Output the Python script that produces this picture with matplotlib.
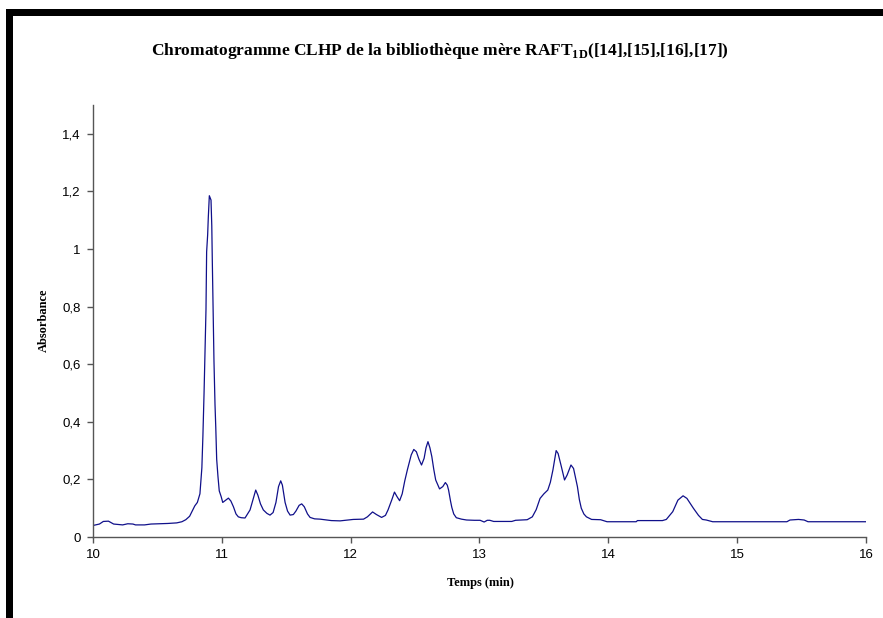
import matplotlib
matplotlib.use('Agg')
import matplotlib.pyplot as plt
from matplotlib.ticker import FuncFormatter, MultipleLocator

# Chromatogramme (temps en min, absorbance)
temps = [10.00, 10.05, 10.08, 10.12, 10.16, 10.23, 10.27, 10.31, 10.33, 10.40,
         10.45, 10.52, 10.58, 10.65, 10.69, 10.72, 10.75, 10.77, 10.79, 10.81,
         10.83, 10.845, 10.853, 10.862, 10.870, 10.877, 10.882, 10.890, 10.895, 10.903,
         10.916, 10.922, 10.926, 10.933, 10.939, 10.947, 10.953, 10.960, 10.970, 10.980,
         10.995, 11.007, 11.030, 11.051, 11.070, 11.090, 11.110, 11.128, 11.150, 11.180,
         11.200, 11.219, 11.245, 11.263, 11.280, 11.300, 11.322, 11.350, 11.374, 11.398,
         11.420, 11.440, 11.457, 11.470, 11.491, 11.510, 11.530, 11.555, 11.575, 11.600,
         11.620, 11.640, 11.665, 11.685, 11.720, 11.762, 11.80, 11.85, 11.918, 11.96,
         12.02, 12.10, 12.13, 12.17, 12.20, 12.24, 12.27, 12.29, 12.32, 12.34,
         12.36, 12.38, 12.40, 12.42, 12.44, 12.47, 12.49, 12.51, 12.53, 12.55,
         12.57, 12.585, 12.60, 12.615, 12.63, 12.645, 12.66, 12.69, 12.715, 12.735,
         12.75, 12.76, 12.775, 12.785, 12.80, 12.82, 12.86, 12.90, 12.96, 13.005,
         13.02, 13.036, 13.06, 13.08, 13.11, 13.20, 13.25, 13.28, 13.37, 13.41,
         13.44, 13.47, 13.50, 13.53, 13.55, 13.57, 13.595, 13.61, 13.635, 13.66,
         13.68, 13.71, 13.73, 13.76, 13.775, 13.79, 13.81, 13.83, 13.87, 13.94,
         13.99, 14.10, 14.216, 14.226, 14.42, 14.45, 14.50, 14.54, 14.58, 14.61,
         14.66, 14.70, 14.73, 14.76, 14.81, 15.386, 15.41, 15.476, 15.52, 15.55,
         16.00]
absorbance = [0.040, 0.045, 0.054, 0.055, 0.045, 0.042, 0.046, 0.045, 0.042, 0.042,
              0.045, 0.046, 0.047, 0.049, 0.053, 0.060, 0.072, 0.090, 0.108, 0.120,
              0.150, 0.24, 0.35, 0.50, 0.65, 0.79, 0.99, 1.05, 1.11, 1.185,
              1.17, 1.08, 0.96, 0.78, 0.61, 0.46, 0.38, 0.27, 0.21, 0.16,
              0.14, 0.12, 0.128, 0.135, 0.125, 0.105, 0.080, 0.070, 0.067, 0.066,
              0.080, 0.094, 0.135, 0.163, 0.145, 0.115, 0.094, 0.082, 0.076, 0.085,
              0.120, 0.175, 0.195, 0.180, 0.120, 0.090, 0.076, 0.078, 0.090, 0.110,
              0.115, 0.105, 0.080, 0.068, 0.063, 0.062, 0.060, 0.057, 0.056, 0.058,
              0.061, 0.062, 0.070, 0.087, 0.078, 0.068, 0.075, 0.094, 0.130, 0.156,
              0.140, 0.126, 0.150, 0.195, 0.233, 0.285, 0.304, 0.296, 0.270, 0.250,
              0.273, 0.310, 0.331, 0.310, 0.279, 0.235, 0.198, 0.167, 0.175, 0.189,
              0.180, 0.163, 0.125, 0.103, 0.080, 0.067, 0.062, 0.059, 0.058, 0.058,
              0.055, 0.052, 0.058, 0.058, 0.054, 0.054, 0.054, 0.058, 0.060, 0.070,
              0.095, 0.134, 0.150, 0.163, 0.190, 0.233, 0.300, 0.290, 0.245, 0.198,
              0.215, 0.250, 0.238, 0.175, 0.130, 0.100, 0.080, 0.070, 0.061, 0.060,
              0.053, 0.053, 0.053, 0.057, 0.057, 0.061, 0.088, 0.128, 0.143, 0.134,
              0.100, 0.075, 0.061, 0.059, 0.053, 0.053, 0.059, 0.061, 0.059, 0.053,
              0.053]

titre = 'Chromatogramme CLHP de la bibliothèque mère RAFT$_{\\mathrm{1D}}$([14],[15],[16],[17])'

plt.rcParams['mathtext.fontset'] = 'custom'
plt.rcParams['mathtext.rm'] = 'Liberation Serif:bold'

W, H = 883, 618
fig = plt.figure(figsize=(W / 100, H / 100), dpi=100)

# cadre noir (bord gauche et haut)
fig.add_artist(plt.Rectangle((6 / W, 0), 7 / W, 1 - 9 / H,
                             transform=fig.transFigure, color='black', lw=0))
fig.add_artist(plt.Rectangle((6 / W, 1 - 16 / H), 1 - 6 / W, 7 / H,
                             transform=fig.transFigure, color='black', lw=0))

ax = fig.add_axes([93 / W, 1 - 537 / H, (866 - 93) / W, (537 - 105) / H])
ax.plot(temps, absorbance, color='#10108a', lw=0.9)

ax.set_xlim(10, 16)
ax.set_ylim(0, 1.5)
ax.xaxis.set_major_locator(MultipleLocator(1))
ax.set_yticks([0, 0.2, 0.4, 0.6, 0.8, 1.0, 1.2, 1.4])
ax.yaxis.set_major_formatter(FuncFormatter(lambda v, p: f'{v:g}'.replace('.', ',')))

for s in ['top', 'right']:
    ax.spines[s].set_visible(False)
for s in ['left', 'bottom']:
    ax.spines[s].set_color('#555555')
    ax.spines[s].set_linewidth(1)
ax.tick_params(direction='out', length=4, width=1, color='#555555',
               labelsize=9.5, pad=5)
for lab in ax.get_xticklabels() + ax.get_yticklabels():
    lab.set_fontfamily('Liberation Sans')

fig.text(0.498, 1 - 51 / H, titre, ha='center', va='center',
         fontsize=12.5, fontweight='bold', family='Liberation Serif')
fig.text(44 / W, 1 - 320 / H, 'Absorbance', ha='center', va='center', rotation=90,
         fontsize=9, fontweight='bold', family='Liberation Serif')
fig.text(480 / W, 1 - 583 / H, 'Temps (min)', ha='center', va='center',
         fontsize=9, fontweight='bold', family='Liberation Serif')

fig.savefig('out.png', dpi=100, facecolor='white')
